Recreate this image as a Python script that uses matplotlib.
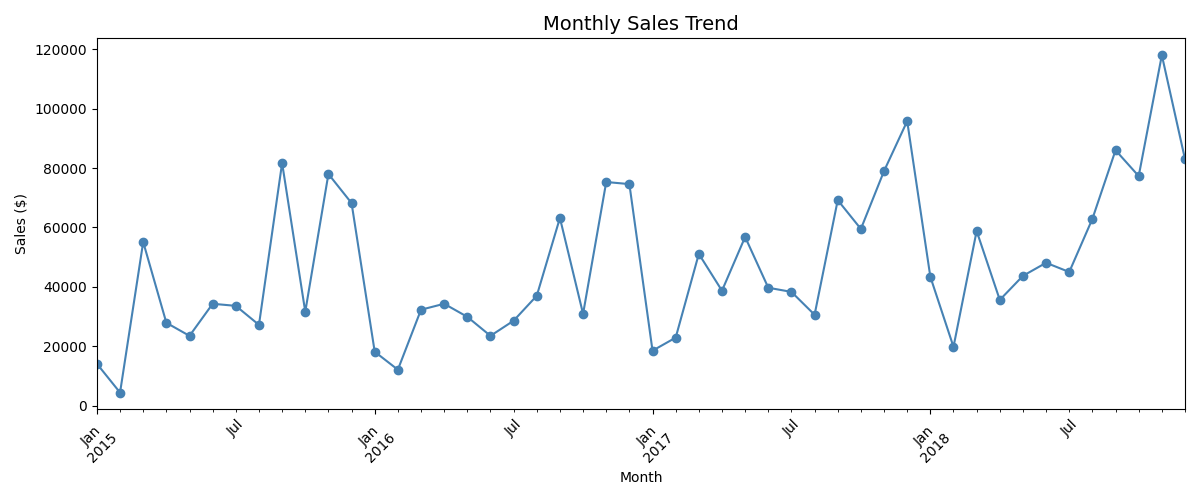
import matplotlib
matplotlib.use('Agg')
import matplotlib.pyplot as plt
import pandas as pd

# monthly sales, Jan 2015 - Dec 2018
months = pd.date_range('2015-01-01', '2018-12-01', freq='MS')
sales = [14100, 4400, 55100, 27900, 23500, 34300, 33600, 27200, 81700, 31600, 78000, 68200,
         18150, 12100, 32300, 34300, 29900, 23500, 28600, 37000, 63200, 30900, 75300, 74600,
         18500, 22900, 51100, 38700, 56800, 39700, 38300, 30600, 69200, 59500, 79000, 95800,
         43400, 19800, 58800, 35600, 43700, 48100, 45000, 62900, 86000, 77300, 118000, 83000]

s = pd.Series(sales, index=months)

fig, ax = plt.subplots(figsize=(12, 5), dpi=100)
s.plot(ax=ax, marker='o', color='steelblue', rot=45)
ax.set_title('Monthly Sales Trend', fontsize=14)
ax.set_xlabel('Month')
ax.set_ylabel('Sales ($)')
plt.tight_layout()
plt.savefig('out.png')
